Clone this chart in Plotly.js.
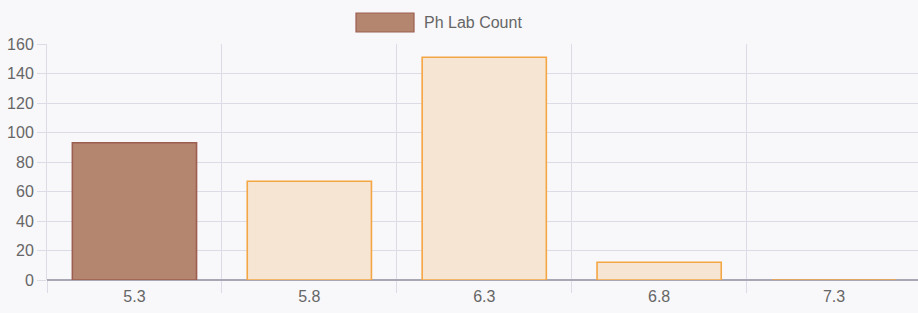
<!DOCTYPE html>
<html>
<head>
<meta charset="utf-8">
<script src="https://cdn.plot.ly/plotly-3.0.1.min.js"></script>
<style>
html,body{margin:0;padding:0;background:#f8f8fa;}
#chart{width:918px;height:313px;}
</style>
</head>
<body>
<div id="chart"></div>
<script>
const categories = ["5.3", "5.8", "6.3", "6.8", "7.3"];
const counts = [93, 67, 151, 12, 0];
const seriesName = "Ph Lab Count";
const yTicks = [0, 20, 40, 60, 80, 100, 120, 140, 160];

const fillColors = ["#b5866f", "#f6e5d3", "#f6e5d3", "#f6e5d3", "#f6e5d3"];
const lineColors = ["#9c5e50", "#f4a644", "#f4a644", "#f4a644", "#f4a644"];

const W = 918, H = 313, L = 47, R = 0, T = 44, B = 33;
const pw = W - L - R, ph = H - T - B;
const px = x => (x - L) / pw;
const py = y => (H - B - y) / ph;

const trace = {
  type: "bar",
  x: categories,
  y: counts,
  name: seriesName,
  width: 0.71,
  marker: {color: fillColors, line: {color: lineColors, width: 1.6}},
  hoverinfo: "x+y"
};

const layout = {
  width: W, height: H,
  margin: {l: L, r: R, t: T, b: B, pad: 0},
  paper_bgcolor: "#f8f8fa",
  plot_bgcolor: "#f8f8fa",
  showlegend: false,
  font: {family: "Liberation Sans, Arial, sans-serif", size: 16, color: "#666"},
  xaxis: {
    type: "category",
    range: [-0.5, 4.48],
    tickson: "boundaries",
    showgrid: true,
    gridcolor: "#dcdce6",
    gridwidth: 1,
    ticks: "outside",
    ticklen: 12,
    tickcolor: "#dcdce6",
    ticklabelstandoff: 5,
    showline: false,
    tickfont: {size: 16, color: "#666"},
    fixedrange: true
  },
  yaxis: {
    range: [0, 160],
    tickvals: yTicks,
    ticktext: yTicks.map(String),
    showgrid: true,
    gridcolor: "#dcdce6",
    gridwidth: 1,
    zeroline: true,
    zerolinecolor: "#a8a8b4",
    zerolinewidth: 1.5,
    ticks: "outside",
    ticklen: 9,
    tickcolor: "#dcdce6",
    showline: true,
    linecolor: "#dcdce6",
    linewidth: 1,
    tickfont: {size: 16, color: "#666"},
    fixedrange: true
  },
  shapes: [{
    type: "rect", xref: "paper", yref: "paper",
    x0: px(356), x1: px(414), y0: py(32), y1: py(13),
    fillcolor: fillColors[0],
    line: {color: lineColors[0], width: 1.2}
  }],
  annotations: [{
    xref: "paper", yref: "paper",
    x: px(422), y: py(22),
    xanchor: "left", yanchor: "middle",
    text: seriesName, showarrow: false,
    font: {size: 16, color: "#666"}
  }]
};

Plotly.newPlot("chart", [trace], layout, {displayModeBar: false, staticPlot: true});
</script>
</body>
</html>
